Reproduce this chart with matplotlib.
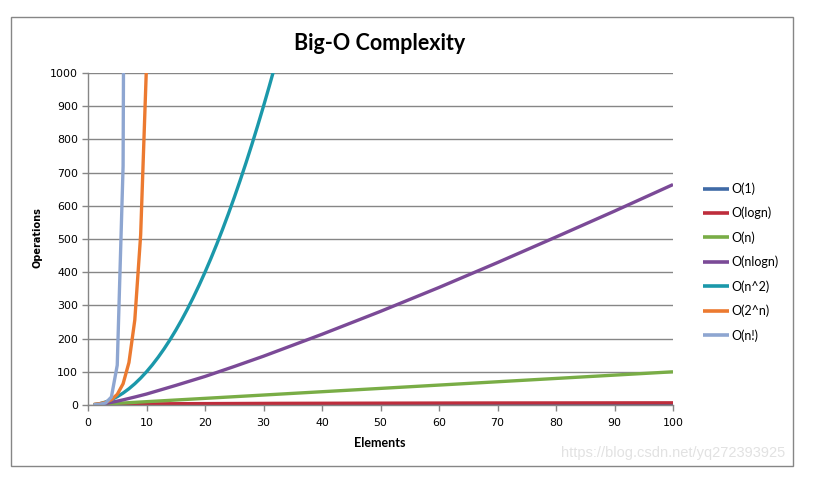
import matplotlib

matplotlib.use("Agg")
import matplotlib.pyplot as plt
from matplotlib.patches import Rectangle

# values (Excel "Big-O Complexity" chart)
series_names = ["O(1)", "O(logn)", "O(n)", "O(nlogn)", "O(n^2)", "O(2^n)", "O(n!)"]
series_colors = ["#3f6aa6", "#be2d3c", "#79ad46", "#7b4a97", "#1b98aa", "#ec7a30", "#8ea6d1"]

const_x = [1, 100]
const_y = [1, 1]

log_x = [1, 2, 4, 8, 16, 32, 64, 100]
log_y = [0, 1, 2, 3, 4, 5, 6, 6.6]

lin_x = [1, 100]
lin_y = [1, 100]

nlog_x = [1, 2, 3, 4, 5, 6, 8, 10, 15, 20, 25, 30, 40, 50, 60, 70, 80, 90, 100]
nlog_y = [0, 2, 4.8, 8, 11.6, 15.5, 24, 33, 59, 86, 116, 147, 213, 282, 354, 429, 506, 584, 664]

sq_x = list(range(1, 33))
sq_y = [1, 4, 9, 16, 25, 36, 49, 64, 81, 100, 121, 144, 169, 196, 225, 256,
        289, 324, 361, 400, 441, 484, 529, 576, 625, 676, 729, 784, 841, 900, 961, 1024]

exp_x = [1, 2, 3, 4, 5, 6, 7, 8, 9, 10]
exp_y = [2, 4, 8, 16, 32, 64, 128, 256, 512, 1024]

fact_x = [1, 2, 3, 4, 5, 6, 7]
fact_y = [1, 2, 6, 24, 120, 720, 5040]

x_ticks = [0, 10, 20, 30, 40, 50, 60, 70, 80, 90, 100]
y_ticks = [0, 100, 200, 300, 400, 500, 600, 700, 800, 900, 1000]

W, H = 813, 479
fig = plt.figure(figsize=(W / 100, H / 100), dpi=100)
fig.patch.set_facecolor("white")

# outer chart border
fig.patches.append(Rectangle((11 / W, 1 - 466 / H), (793 - 11) / W, (466 - 17) / H,
                             transform=fig.transFigure, fill=False,
                             edgecolor="#868686", linewidth=1.0))

ax = fig.add_axes([88 / W, 1 - 405 / H, (673 - 88) / W, (405 - 73) / H])

data = [(const_x, const_y), (log_x, log_y), (lin_x, lin_y), (nlog_x, nlog_y),
        (sq_x, sq_y), (exp_x, exp_y), (fact_x, fact_y)]
for (xs, ys), name, col in zip(data, series_names, series_colors):
    ax.plot(xs, ys, color=col, linewidth=2.4, label=name, solid_capstyle="butt")

ax.set_xlim(0, 100)
ax.set_ylim(0, 1000)
ax.set_xticks(x_ticks)
ax.set_yticks(y_ticks)
ax.tick_params(axis="both", labelsize=7.9, colors="#868686", labelcolor="black",
               direction="out", length=4, width=1)
ax.tick_params(axis="x", pad=5)
ax.tick_params(axis="y", pad=3)
ax.grid(True, axis="y", color="#868686", linewidth=1)
ax.set_axisbelow(True)
for s in ("top", "right"):
    ax.spines[s].set_visible(False)
for s in ("left", "bottom"):
    ax.spines[s].set_color("#868686")
    ax.spines[s].set_linewidth(1)

fig.text(380 / W, 1 - 43 / H, "Big-O Complexity", ha="center", va="center",
         fontsize=15.5, fontweight="bold", family=["Lato", "DejaVu Sans"])
fig.text(380 / W, 1 - 443 / H, "Elements", ha="center", va="center",
         fontsize=9, fontweight="bold", family=["Lato", "DejaVu Sans"])
fig.text(37 / W, 1 - 238 / H, "Operations", ha="center", va="center", rotation=90,
         fontsize=7, fontweight="bold", family=["DejaVu Sans"])

leg = fig.legend(loc="center left", bbox_to_anchor=(703 / W, 1 - 262 / H),
                 frameon=False, labelspacing=0.95, handlelength=2.1,
                 handletextpad=0.15, borderpad=0, borderaxespad=0,
                 prop={"family": ["Lato", "DejaVu Sans"], "size": 9})
for line in leg.get_lines():
    line.set_linewidth(2.6)

fig.text(785 / W, 1 - 453 / H, "https://blog.csdn.net/yq272393925", ha="right", va="center",
         fontsize=10.5, color="#e2e2e2", family=["Liberation Sans", "DejaVu Sans"])

fig.savefig("out.png", dpi=100)
